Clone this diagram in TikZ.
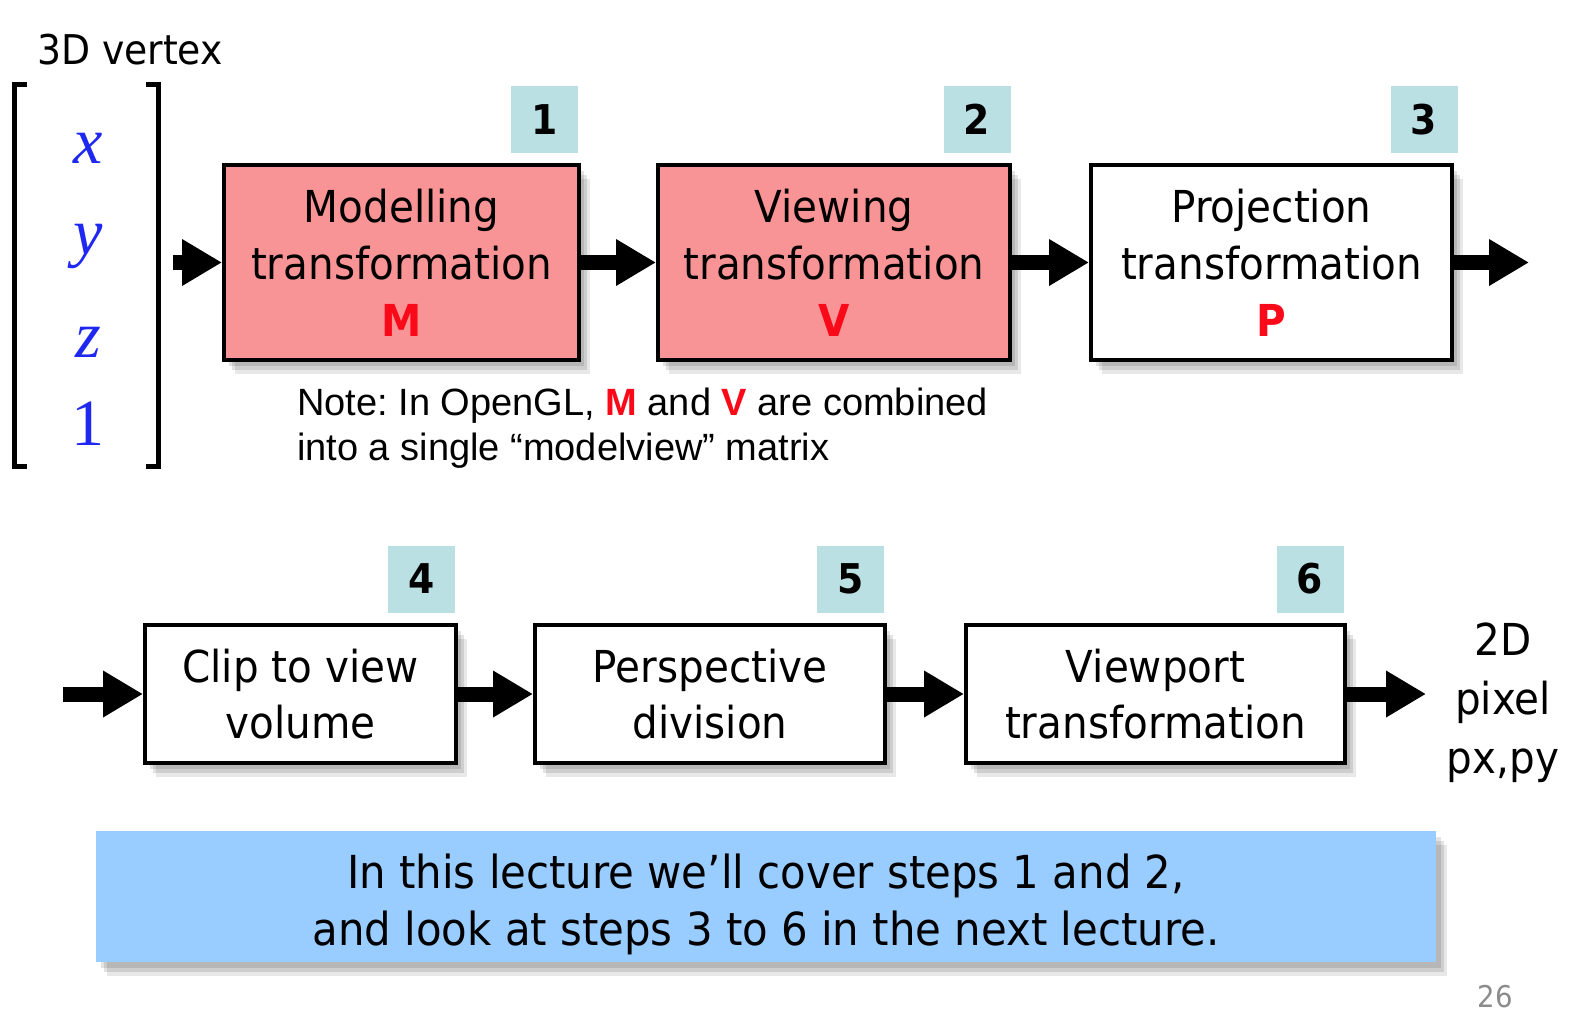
\documentclass[tikz,border=0pt]{standalone}
\usepackage{fontspec}
\setmainfont{DejaVu Sans}[FakeStretch=0.92]
\newfontfamily\notefont{Liberation Sans}
\newfontfamily\serifit{Liberation Serif}
\usetikzlibrary{arrows.meta,shadows}
\frenchspacing
\definecolor{pinkfill}{RGB}{249,148,150}
\definecolor{numfill}{RGB}{187,224,227}
\definecolor{bluefill}{RGB}{153,204,255}
\definecolor{myred}{RGB}{250,10,25}
\definecolor{varblue}{RGB}{30,40,240}
\tikzset{
  softshadow/.style={
    general shadow={shadow xshift=5pt,shadow yshift=-6pt,fill=black,opacity=0.11},
    general shadow={shadow xshift=8pt,shadow yshift=-10pt,fill=black,opacity=0.11},
    general shadow={shadow xshift=11pt,shadow yshift=-14pt,fill=black,opacity=0.09}},
  stagebox/.style={draw=black, line width=4pt, softshadow, align=center, inner sep=0pt},
  toprow/.style={stagebox, minimum height=195pt, font=\fontsize{44}{57}\selectfont},
  botrow/.style={stagebox, fill=white, minimum height=138pt, font=\fontsize{44}{56}\selectfont},
  numbox/.style={fill=numfill, minimum width=67pt, minimum height=67pt, inner sep=0pt, font=\fontsize{41}{41}\selectfont\bfseries},
  flow/.style={line width=15pt, -{Triangle[length=40pt,width=44pt]}},
  bracket/.style={line width=5pt},
  vec/.style={text=varblue, font=\fontsize{66}{66}\selectfont\serifit\itshape, anchor=base},
}
\begin{document}
\begin{tikzpicture}[x=1pt,y=-1pt]
\fill[white] (0,0) rectangle (1586,1020);
\path[use as bounding box] (0,0) rectangle (1586,1020);

% 3D vertex
\node[font=\fontsize{41}{41}\selectfont] (title) at (130,50) {3D vertex};
\coordinate (lbt) at (27,84);
\coordinate (lbb) at (27,466);
\coordinate (rbt) at (146,84);
\coordinate (rbb) at (146,466);
\draw[bracket] (lbt) -- (14.5,84) -- (14.5,466) -- (lbb);
\draw[bracket] (rbt) -- (158,84) -- (158,466) -- (rbb);
\node[vec] (vx) at (88,163) {x};
\node[vec] (vy) at (88,254) {y};
\node[vec] (vz) at (88,357) {z};
\node[vec, font=\fontsize{66}{66}\selectfont\serifit] (v1) at (88,445) {1};

% top row
\node[toprow, fill=pinkfill, minimum width=355pt] (M) at (401.5,262.5) {Modelling\\transformation\\{\color{myred}\bfseries M}};
\node[toprow, fill=pinkfill, minimum width=352pt] (V) at (834,262.5) {Viewing\\transformation\\{\color{myred}\bfseries V}};
\node[toprow, fill=white, minimum width=361pt] (P) at (1271.5,262.5) {Projection\\transformation\\{\color{myred}\bfseries P}};

\node[numbox] (n1) at (544.5,119.5) {1};
\node[numbox] (n2) at (977,119.5) {2};
\node[numbox] (n3) at (1424,119.5) {3};

\coordinate (in1) at (173,262.5);
\coordinate (out1) at (1529,262.5);
\draw[flow] (in1) -- (M.west);
\draw[flow] (M.east) -- (V.west);
\draw[flow] (V.east) -- (P.west);
\draw[flow] (P.east) -- (out1);

% note (base anchor = baseline of last line)
\node[anchor=base west, align=left, inner sep=0pt, font=\fontsize{38}{45}\selectfont\notefont] (note) at (297,460)
  {Note: In OpenGL, {\color{myred}\bfseries M} and {\color{myred}\bfseries V} are combined\\into a single “modelview” matrix};

% bottom row
\node[botrow, minimum width=311pt] (C) at (300.5,694) {Clip to view\\volume};
\node[botrow, minimum width=350pt] (D) at (710,694) {Perspective\\division};
\node[botrow, minimum width=379pt] (W) at (1155.5,694) {Viewport\\transformation};

\node[numbox] (n4) at (421.5,579) {4};
\node[numbox] (n5) at (850.5,579) {5};
\node[numbox] (n6) at (1310,579) {6};

\coordinate (in2) at (63,694);
\coordinate (out2) at (1426,694);
\draw[flow] (in2) -- (C.west);
\draw[flow] (C.east) -- (D.west);
\draw[flow] (D.east) -- (W.west);
\draw[flow] (W.east) -- (out2);

\node[align=center, font=\fontsize{44}{59}\selectfont] (pix) at (1503,703) {2D\\pixel\\px,py};

% summary
\node[fill=bluefill, softshadow, minimum width=1340pt, minimum height=131pt, inner sep=0pt] (sum) at (766,896.5) {};
\node[align=center, inner sep=0pt, font=\fontsize{45.5}{57}\selectfont] (sumtext) at (766,904)
  {In this lecture we’ll cover steps 1 and 2,\\and look at steps 3 to 6 in the next lecture.};

\node[text=black!45, font=\fontsize{30}{30}\selectfont] (page) at (1495,997) {26};
\end{tikzpicture}
\end{document}
